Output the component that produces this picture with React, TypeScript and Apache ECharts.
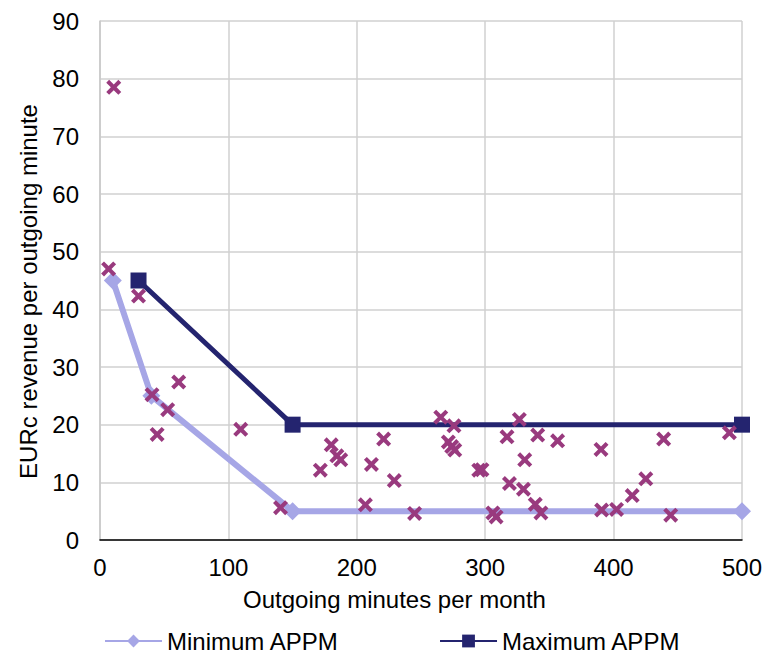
import React, { useEffect, useRef } from "react";
import * as echarts from "echarts";

// Individual observations: outgoing minutes per month vs EURc revenue per minute
const obsMinutes = [
  10.7, 6.7, 30, 40.5, 52.7, 61.3, 44.5, 109.6, 140.6, 171.6, 180.1, 184.5, 187.5,
  211.4, 220.9, 229.2, 206.7, 245, 265.4, 275.7, 271.3, 273.9, 276.3, 295, 297.5,
  306, 308.5, 317, 318.9, 326.6, 340.9, 356.4, 330.8, 329.8, 339, 343.4, 390.2,
  390.7, 402.3, 414.5, 425.1, 439, 444.5, 490.2,
];
const obsRevenue = [
  78.5, 47.0, 42.3, 25.2, 22.6, 27.4, 18.3, 19.2, 5.6, 12.1, 16.5, 14.6, 13.9,
  13.1, 17.5, 10.3, 6.1, 4.6, 21.3, 19.8, 17.0, 16.2, 15.6, 12.1, 12.2,
  4.7, 4.0, 17.9, 9.8, 20.9, 18.2, 17.2, 13.9, 8.8, 6.2, 4.7, 15.7,
  5.2, 5.3, 7.7, 10.6, 17.5, 4.3, 18.6,
];

// APPM envelope lines
const minMinutes = [10, 40, 150, 500];
const minRevenue = [45, 25, 5, 5];
const maxMinutes = [30, 150, 500];
const maxRevenue = [45, 20, 20];

const xTicks = { min: 0, max: 500, interval: 100 };
const yTicks = { min: 0, max: 90, interval: 10 };

const FONT = "'Liberation Sans', Arial, sans-serif";
const CROSS =
  "path://M0,2.7 L2.7,0 L7,4.3 L11.3,0 L14,2.7 L9.7,7 L14,11.3 L11.3,14 L7,9.7 L2.7,14 L0,11.3 L4.3,7 Z";

export default function App() {
  const ref = useRef<HTMLDivElement>(null);

  useEffect(() => {
    if (!ref.current) return;
    const chart = echarts.init(ref.current, null, { renderer: "svg" });
    chart.setOption({
      animation: false,
      backgroundColor: "#ffffff",
      textStyle: { fontFamily: FONT, color: "#000" },
      grid: { left: 100, right: 19, top: 21, bottom: 114, containLabel: false },
      legend: {
        data: ["Minimum APPM", "Maximum APPM"],
        left: 99,
        top: 624,
        itemWidth: 57,
        itemHeight: 16,
        itemGap: 100,
        textStyle: { fontFamily: FONT, fontSize: 24, color: "#000" },
      },
      xAxis: {
        type: "value",
        ...xTicks,
        name: "Outgoing minutes per month",
        nameLocation: "middle",
        nameGap: 47,
        nameTextStyle: { fontFamily: FONT, fontSize: 24, color: "#000", padding: [0, 53, 0, 0] },
        axisLine: { show: true, lineStyle: { color: "#000", width: 1.5 } },
        axisTick: { show: false },
        axisLabel: { fontFamily: FONT, fontSize: 24, color: "#000", margin: 15 },
        splitLine: { show: true, lineStyle: { color: "#d0d0d0", width: 1.5 } },
      },
      yAxis: {
        type: "value",
        ...yTicks,
        name: "EURc revenue per outgoing minute",
        nameLocation: "middle",
        nameGap: 60,
        nameTextStyle: { fontFamily: FONT, fontSize: 24, color: "#000", padding: [0, 22, 0, 0] },
        axisLine: { show: true, lineStyle: { color: "#c8c8c8", width: 1.5 } },
        axisTick: { show: false },
        axisLabel: { fontFamily: FONT, fontSize: 24, color: "#000", margin: 21 },
        splitLine: { show: true, lineStyle: { color: "#d0d0d0", width: 1.5 } },
      },
      series: [
        {
          name: "Minimum APPM",
          type: "line",
          data: minMinutes.map((x, i) => [x, minRevenue[i]]),
          symbol: "diamond",
          symbolSize: 18,
          lineStyle: { color: "#a6a6e6", width: 6 },
          itemStyle: { color: "#a6a6e6" },
          z: 2,
        },
        {
          name: "Maximum APPM",
          type: "line",
          data: maxMinutes.map((x, i) => [x, maxRevenue[i]]),
          symbol: "rect",
          symbolSize: 16,
          lineStyle: { color: "#24246f", width: 5 },
          itemStyle: { color: "#24246f" },
          z: 3,
        },
        {
          name: "Observations",
          type: "scatter",
          data: obsMinutes.map((x, i) => [x, obsRevenue[i]]),
          symbol: CROSS,
          symbolSize: 15,
          itemStyle: { color: "#993a7e", opacity: 1 },
          z: 4,
        },
      ],
    });
    return () => chart.dispose();
  }, []);

  return (
    <div
      ref={ref}
      style={{ position: "fixed", left: 0, top: 0, width: 765, height: 654 }}
    />
  );
}
